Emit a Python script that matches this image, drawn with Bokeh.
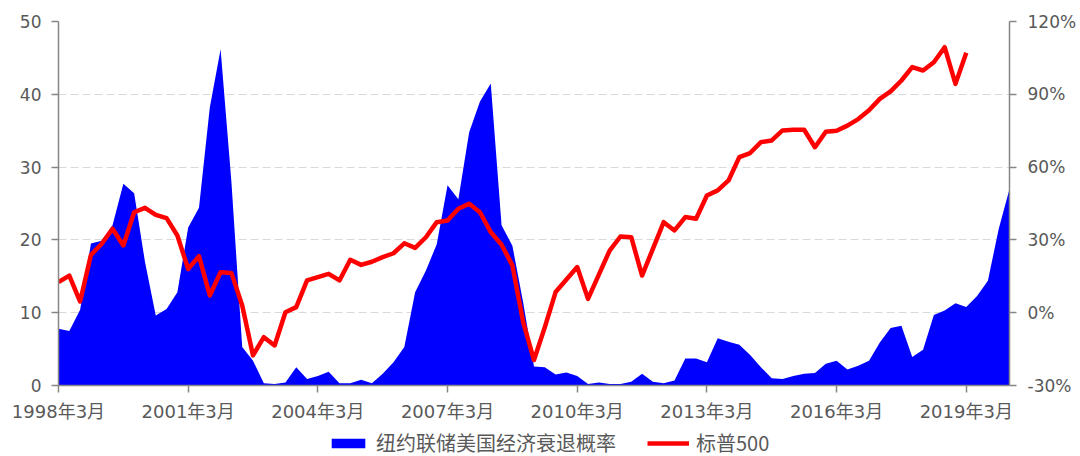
import numpy as np
from bokeh.plotting import figure
from bokeh.layouts import column
from bokeh.models import (Range1d, LinearAxis, FixedTicker, PrintfTickFormatter,
                          Legend, LegendItem)
from bokeh.embed import file_html
from bokeh.resources import INLINE

# Quarterly data, index 0 = 1998Q1 (1998年3月)
recession = [7.8, 7.5, 10.4, 19.5, 19.9, 22.0, 27.7, 26.4, 17.0, 9.6,
             10.5, 12.8, 21.7, 24.4, 38.2, 46.2, 28.0, 5.3, 3.4, 0.3,
             0.2, 0.4, 2.5, 0.9, 1.3, 1.9, 0.3, 0.3, 0.8, 0.3,
             1.6, 3.2, 5.3, 12.8, 15.8, 19.4, 27.5, 25.6, 34.8, 39.0,
             41.5, 22.0, 19.2, 11.4, 2.6, 2.5, 1.5, 1.8, 1.3, 0.2,
             0.4, 0.2, 0.2, 0.5, 1.6, 0.5, 0.3, 0.7, 3.7, 3.7,
             3.2, 6.5, 6.0, 5.6, 4.2, 2.5, 1.0, 0.9, 1.3, 1.6,
             1.7, 3.0, 3.4, 2.2, 2.7, 3.4, 5.9, 7.9, 8.2, 3.9,
             4.9, 9.7, 10.3, 11.3, 10.8, 12.3, 14.4, 21.5, 27.0]

sp500 = [12.6, 15.3, 4.6, 23.8, 28.4, 34.6, 27.7, 41.4, 43.2, 40.3,
         39.0, 31.8, 18.0, 23.3, 7.1, 16.7, 16.4, 3.0, -17.6, -10.1,
         -13.5, 0.2, 2.3, 13.3, 14.7, 16.0, 13.3, 21.8, 19.7, 21.0,
         22.9, 24.5, 28.6, 26.7, 31.1, 37.3, 38.0, 42.8, 44.9, 41.4,
         33.2, 28.0, 19.5, -3.9, -19.5, -6.0, 8.5, 13.7, 18.8, 5.7,
         15.7, 25.6, 31.4, 31.1, 15.3, 26.3, 37.3, 33.9, 39.4, 38.7,
         48.3, 50.4, 54.5, 64.1, 65.8, 70.3, 71.0, 75.1, 75.4, 75.4,
         68.2, 74.6, 75.0, 77.1, 79.8, 83.4, 88.1, 91.2, 95.7, 101.2,
         99.8, 103.2, 109.4, 94.3, 107.1]

tick_labels = ["1998年3月", "2001年3月", "2004年3月", "2007年3月",
               "2010年3月", "2013年3月", "2016年3月", "2019年3月"]
tick_pos = [12 * k for k in range(len(tick_labels))]

left_ticks = [0, 10, 20, 30, 40, 50]
right_ticks = [-30, 0, 30, 60, 90, 120]

series_names = ["纽约联储美国经济衰退概率", "标普500"]

x_rec = np.arange(len(recession))
x_sp = np.arange(len(sp500))

BLUE = "#0000FF"
RED = "#FF0000"
LABEL_COLOR = "#595959"
AXIS_COLOR = "#868686"
FONT = "DejaVu Sans, Noto Sans CJK SC"

p = figure(width=1080, height=425, output_backend="svg", toolbar_location=None,
           x_range=Range1d(0, 88), y_range=Range1d(0, 50),
           min_border_left=58, min_border_right=71, min_border_top=21,
           min_border_bottom=40)
p.extra_y_ranges = {"pct": Range1d(-30, 120)}
p.outline_line_color = None

area = p.varea(x=x_rec, y1=0, y2=recession, fill_color=BLUE)
line = p.line(x_sp, sp500, y_range_name="pct", line_color=RED,
              line_width=4.5, line_join="round")

p.xgrid.visible = False
p.ygrid.ticker = FixedTicker(ticks=left_ticks)
p.ygrid.grid_line_color = "#d9d9d9"
p.ygrid.grid_line_dash = "8 4"
p.ygrid.grid_line_width = 1

def style_axis(ax):
    ax.axis_line_color = AXIS_COLOR
    ax.axis_line_width = 1.5
    ax.major_tick_line_color = AXIS_COLOR
    ax.major_tick_line_width = 1.5
    ax.major_tick_out = 7
    ax.major_tick_in = 0
    ax.minor_tick_line_color = None
    ax.major_label_text_color = LABEL_COLOR
    ax.major_label_text_font = FONT
    ax.major_label_text_font_size = "17px"

xa = p.xaxis[0]
xa.ticker = FixedTicker(ticks=tick_pos)
xa.major_label_overrides = {pos: lab for pos, lab in zip(tick_pos, tick_labels)}
style_axis(xa)
xa.major_label_text_font_size = "18px"
xa.major_label_standoff = 8

ya = p.yaxis[0]
ya.ticker = FixedTicker(ticks=left_ticks)
style_axis(ya)
ya.major_label_standoff = 10

ra = LinearAxis(y_range_name="pct", ticker=FixedTicker(ticks=right_ticks),
                formatter=PrintfTickFormatter(format="%d%%"))
style_axis(ra)
ra.major_label_standoff = 11
p.add_layout(ra, "right")

# legend strip below the chart
lf = figure(width=1080, height=31, output_backend="svg", toolbar_location=None,
            x_range=Range1d(0, 1080), y_range=Range1d(0, 31),
            x_axis_type=None, y_axis_type=None, min_border=0)
lf.outline_line_color = None
lf.grid.visible = False
lg_area = lf.varea(x=[-10, -5], y1=[-10, -10], y2=[-5, -5], fill_color=BLUE)
lg_line = lf.line([-10, -5], [-10, -10], line_color=RED, line_width=4.5)

legend = Legend(items=[LegendItem(label=series_names[0], renderers=[lg_area]),
                       LegendItem(label=series_names[1], renderers=[lg_line])],
                orientation="horizontal", location=(269, -1),
                glyph_width=42, glyph_height=12, label_standoff=7, spacing=31,
                padding=0, margin=0, border_line_color=None,
                background_fill_alpha=0,
                label_text_font="Noto Sans CJK SC", label_text_font_size="20px",
                label_text_color=LABEL_COLOR)
lf.add_layout(legend, "center")

layout = column(p, lf, spacing=0)
open("out.html", "w").write(file_html(layout, INLINE))
